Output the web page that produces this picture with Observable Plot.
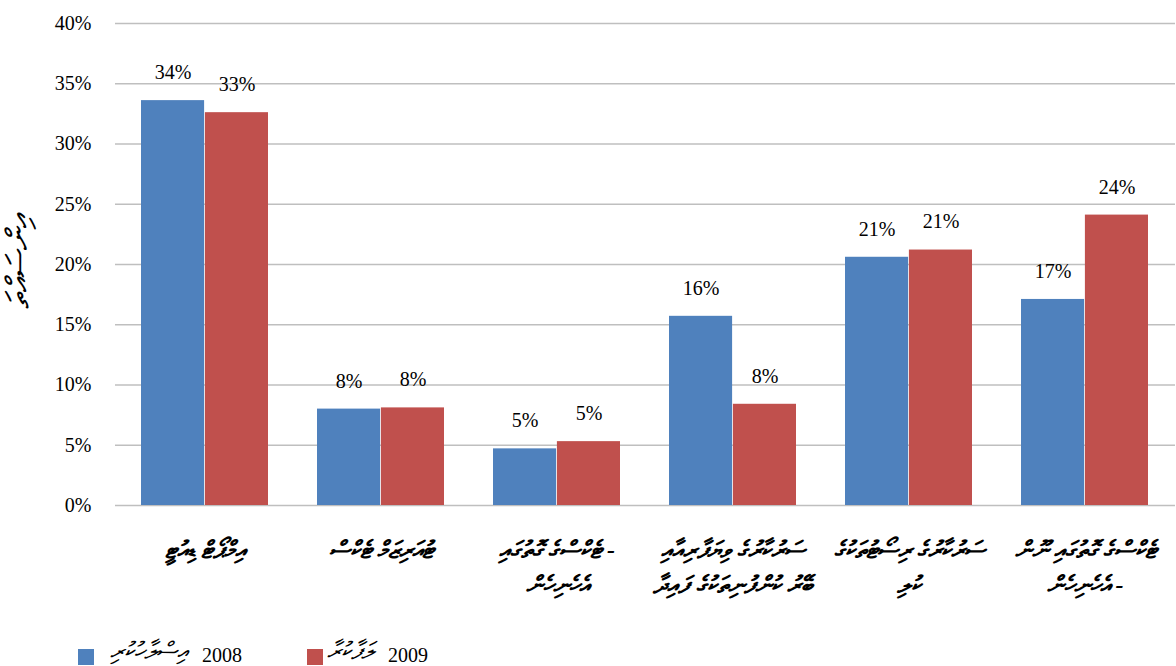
<!DOCTYPE html>
<html><head><meta charset="utf-8">
<script src="https://cdn.jsdelivr.net/npm/d3@7"></script>
<script src="https://cdn.jsdelivr.net/npm/@observablehq/plot@0.6"></script>
<style>
body{margin:0;background:#fff;}
#wrap{position:relative;width:1176px;height:666px;overflow:hidden;font-family:"Liberation Serif","Times New Roman",serif;color:#000;}
#chart{position:absolute;left:0;top:0;}
.ytitle{position:absolute;left:18px;top:262px;transform:translate(-50%,-50%) rotate(-90deg);font-style:italic;font-size:32px;white-space:nowrap;}
.sw{position:absolute;width:16px;height:16px;top:649px;}
.lt{position:absolute;top:644px;font-size:20px;white-space:nowrap;}
.lth{position:absolute;top:638px;font-size:24px;font-style:italic;white-space:nowrap;}
</style></head>
<body><div id="wrap"><div id="chart"></div></div>
<script>
const categories = ["import","tourism","taxOther","soe","resort","nonTaxOther"];
const categoryLabels = [
  "އިމްޕޯޓް ޑިއުޓީ",
  "ޓުއަރިޒަމް ޓެކްސް",
  "ޓެކްސްގެ ގޮތުގައި -\nއެހެނިހެން",
  "ސަރުކާރުގެ ވިޔަފާރިއާއި\nބޭރު ކުންފުނިތަކުގެ ފައިދާ",
  "ސަރުކާރުގެ ރިސޯޓުތަކުގެ\nކުލި",
  "ޓެކްސްގެ ގޮތުގައި ނޫން\nއެހެނިހެން -"
];
const years = ["2008","2009"];
const yearNames = ["އިސްލާހުކުރި","ލަފާކުރާ"];
const values2008 = [33.6, 8.0, 4.7, 15.7, 20.6, 17.1];
const values2009 = [32.6, 8.1, 5.3, 8.4, 21.2, 24.1];
const yTicks = [0,5,10,15,20,25,30,35,40];
const yTitle = "އިންސައްތަ";

const table = categories.map((c,i)=>({category:c,label:categoryLabels[i],v2008:values2008[i],v2009:values2009[i]}));
const blue = "#4f81bd", red = "#c0504d";
const pct = v => Math.round(v) + "%";

const chart = Plot.plot({
  width: 1176,
  height: 630,
  marginLeft: 115,
  marginRight: 1,
  marginTop: 23,
  marginBottom: 125,
  style: {fontFamily: "'Liberation Serif','Times New Roman',serif", fontSize: "20px", background: "white", color: "black"},
  x: {domain: categories, paddingInner: 0.277, paddingOuter: 0.1385, axis: null},
  y: {domain: [0, 40], ticks: yTicks, tickFormat: d => d + "%", tickSize: 0, tickPadding: 24, label: null},
  marks: [
    Plot.ruleY(yTicks, {stroke: "#bfbfbf", strokeWidth: 1.5}),
    Plot.barY(table, {x: "category", y: "v2008", fill: blue, insetRight: 63.9}),
    Plot.barY(table, {x: "category", y: "v2009", fill: red, insetLeft: 63.9}),
    Plot.text(table, {x: "category", y: "v2008", text: d => pct(d.v2008), dx: -32, dy: -28, fontSize: 20}),
    Plot.text(table, {x: "category", y: "v2009", text: d => pct(d.v2009), dx: 32, dy: -28, fontSize: 20}),
    Plot.text(table, {x: "category", frameAnchor: "bottom", text: "label", dy: 28, lineAnchor: "top", lineHeight: 1.45, fontSize: 24, fontStyle: "italic", fontWeight: "bold"})
  ]
});
const wrap = document.getElementById("wrap");
document.getElementById("chart").appendChild(chart);

const yt = document.createElement("div");
yt.className = "ytitle"; yt.textContent = yTitle; wrap.appendChild(yt);

const legendColors = [blue, red];
const swX = [78, 307], nameX = [110, 327], yearX = [202, 388];
years.forEach((y, i) => {
  const s = document.createElement("div"); s.className = "sw"; s.style.left = swX[i] + "px"; s.style.background = legendColors[i]; wrap.appendChild(s);
  const n = document.createElement("div"); n.className = "lth"; n.style.left = nameX[i] + "px"; n.textContent = yearNames[i]; wrap.appendChild(n);
  const t = document.createElement("div"); t.className = "lt"; t.style.left = yearX[i] + "px"; t.textContent = y; wrap.appendChild(t);
});
</script>
</body></html>
